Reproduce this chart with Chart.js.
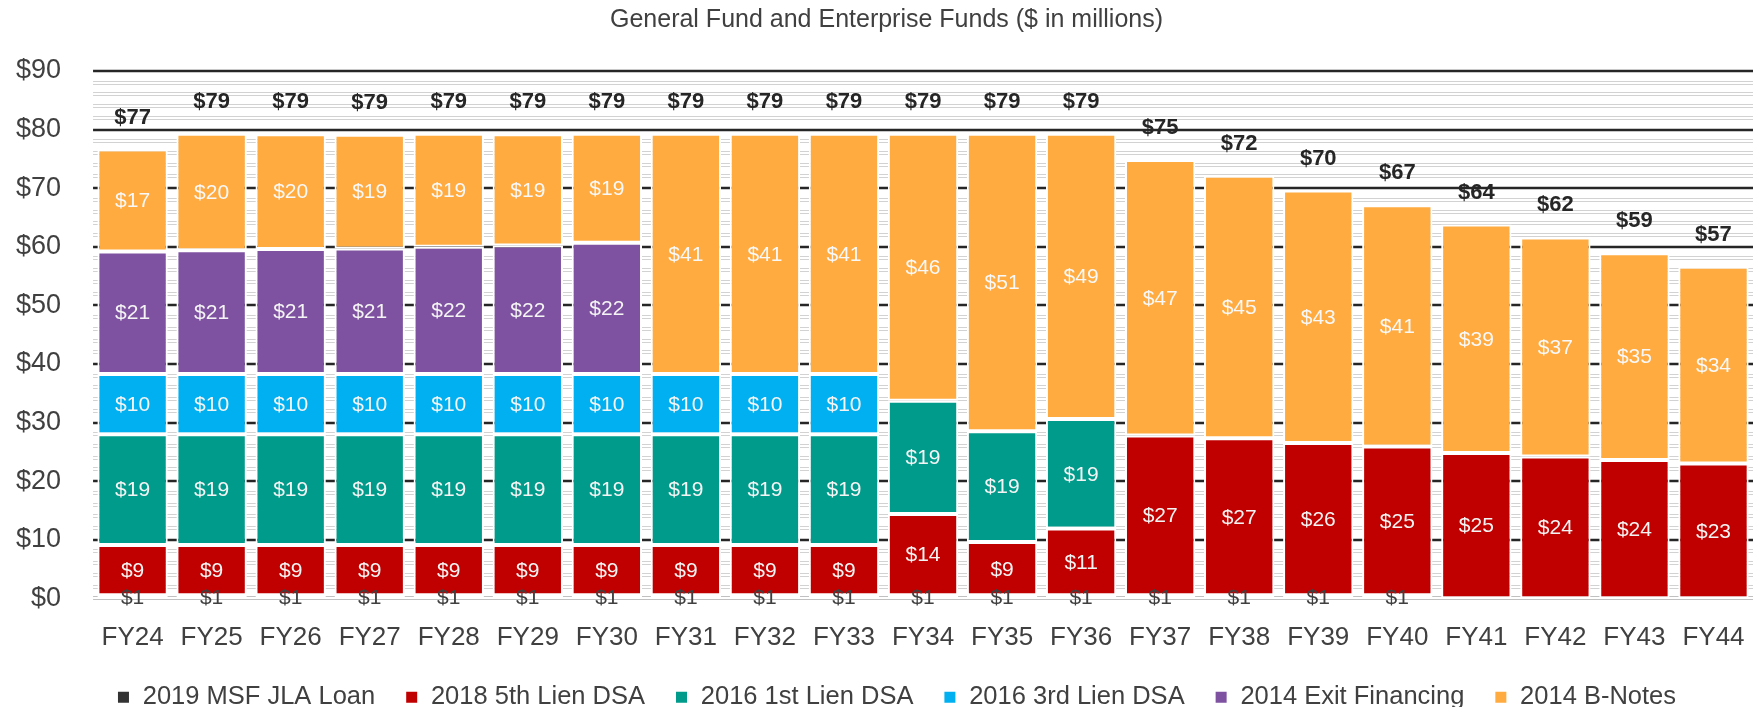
<!DOCTYPE html>
<html>
<head>
<meta charset="utf-8">
<script src="https://cdn.jsdelivr.net/npm/chart.js@4.4.1/dist/chart.umd.min.js"></script>
<style>
  html, body { margin: 0; padding: 0; background: #fff; }
  #wrap { width: 1759px; height: 707px; position: relative; }
</style>
</head>
<body>
<div id="wrap"><canvas id="c"></canvas></div>
<script>
const categories = ['FY24','FY25','FY26','FY27','FY28','FY29','FY30','FY31','FY32','FY33','FY34','FY35','FY36','FY37','FY38','FY39','FY40','FY41','FY42','FY43','FY44'];
const seriesNames = ['2019 MSF JLA Loan','2018 5th Lien DSA','2016 1st Lien DSA','2016 3rd Lien DSA','2014 Exit Financing','2014 B-Notes'];
const jlaLoan   = [0.5,0.5,0.5,0.5,0.5,0.5,0.5,0.5,0.5,0.5,0.5,0.5,0.5,0.5,0.5,0.5,0.5,null,null,null,null];
const lien5th   = [8.6,8.6,8.6,8.6,8.6,8.6,8.6,8.6,8.6,8.6,13.9,9.1,11.4,27.3,26.8,26.0,25.4,24.8,24.2,23.6,23.0];
const lien1st   = [18.9,18.9,18.9,18.9,18.9,18.9,18.9,18.9,18.9,18.9,19.3,18.9,18.7,null,null,null,null,null,null,null,null];
const lien3rd   = [10.3,10.3,10.3,10.3,10.3,10.3,10.3,10.3,10.3,10.3,null,null,null,null,null,null,null,null,null,null,null];
const exitFin   = [20.9,21.1,21.3,21.4,21.7,21.9,22.4,null,null,null,null,null,null,null,null,null,null,null,null,null,null];
const bNotes    = [17.4,19.9,19.6,19.4,19.3,19.0,18.6,41.0,41.0,41.0,45.6,50.8,48.7,47.0,44.8,43.1,41.2,39.0,37.4,35.3,33.6];
const yTicks    = [0,10,20,30,40,50,60,70,80,90];

const colors = ['#333333','#C00000','#009B8A','#00B0F0','#7E52A0','#FFAB40'];
const labelColors = ['#404040','#f4f4f4','#f4f4f4','#f4f4f4','#f4f4f4','#f8f8f8'];
const seriesData = [jlaLoan, lien5th, lien1st, lien3rd, exitFin, bNotes];

const FONT = "'Liberation Sans', Arial, sans-serif";

function hline(ctx, a, py, color, w) {
  ctx.strokeStyle = color; ctx.lineWidth = w;
  ctx.beginPath(); ctx.moveTo(a.left, py); ctx.lineTo(a.right, py); ctx.stroke();
}

const gridPlugin = {
  id: 'gridPlugin',
  afterLayout(chart) {
    // nudge title and legend horizontally to match the reference centring
    if (chart.titleBlock) { chart.titleBlock.left += 18; chart.titleBlock.right += 18; }
    if (chart.legend) { chart.legend.left += 28; chart.legend.right += 28; }
  },
  beforeDatasetsDraw(chart) {
    const {ctx, chartArea: a, scales: {y}} = chart;
    ctx.save();
    for (let v = 2; v < 90; v += 2) {
      if (v % 10 === 0) continue;
      const py = Math.round(y.getPixelForValue(v));
      hline(ctx, a, py, '#d2d2d2', 4);
      hline(ctx, a, py, '#ffffff', 2);
    }
    yTicks.forEach(v => {
      const py = Math.round(y.getPixelForValue(v));
      if (v === 0) {
        hline(ctx, a, py, '#c0c0c0', 4);
        hline(ctx, a, py, '#ffffff', 2);
      } else {
        hline(ctx, a, py, '#262626', 2.5);
      }
    });
    ctx.restore();
  }
};

const labelPlugin = {
  id: 'labelPlugin',
  afterDatasetsDraw(chart) {
    const {ctx, scales: {y}} = chart;
    ctx.save();
    ctx.textAlign = 'center';
    ctx.textBaseline = 'middle';
    chart.data.datasets.forEach((ds, di) => {
      const meta = chart.getDatasetMeta(di);
      meta.data.forEach((bar, i) => {
        const v = ds.data[i];
        if (v == null) return;
        const props = bar.getProps(['x','y','base'], true);
        const cy = (props.y + props.base) / 2;
        ctx.font = `21px ${FONT}`;
        ctx.fillStyle = labelColors[di];
        ctx.fillText('$' + Math.round(v), props.x, cy + 1);
      });
    });
    ctx.font = `bold 22px ${FONT}`;
    ctx.fillStyle = '#262626';
    const meta0 = chart.getDatasetMeta(1);
    categories.forEach((c, i) => {
      let sum = 0;
      seriesData.forEach(s => { if (s[i] != null) sum += s[i]; });
      const px = meta0.data[i].x;
      const py = y.getPixelForValue(sum) - 32;
      ctx.fillText('$' + Math.round(sum), px, py);
    });
    ctx.restore();
  }
};

new Chart(document.getElementById('c'), {
  type: 'bar',
  data: {
    labels: categories,
    datasets: seriesData.map((d, i) => ({
      label: seriesNames[i],
      data: d,
      backgroundColor: colors[i],
      borderColor: '#ffffff',
      borderWidth: 2,
      borderSkipped: false,
      categoryPercentage: 0.89,
      barPercentage: 1.0
    }))
  },
  options: {
    responsive: true,
    maintainAspectRatio: false,
    animation: false,
    layout: { padding: { left: -16, right: 6, top: 0, bottom: -13 } },
    plugins: {
      title: {
        display: true,
        text: 'General Fund and Enterprise Funds ($ in millions)',
        color: '#404040',
        font: { family: FONT, size: 25, weight: 'normal' },
        padding: { top: 5, bottom: 36 }
      },
      legend: {
        position: 'bottom',
        labels: {
          color: '#404040',
          font: { family: FONT, size: 25.5 },
          boxWidth: 13, boxHeight: 13,
          padding: 30
        }
      },
      tooltip: { enabled: false }
    },
    scales: {
      x: {
        stacked: true,
        grid: { display: false, drawTicks: true, tickLength: 23 },
        border: { display: false },
        ticks: { color: '#404040', font: { family: FONT, size: 26 }, padding: 1 }
      },
      y: {
        stacked: true,
        min: 0, max: 90,
        afterBuildTicks: (scale) => { scale.ticks = yTicks.map(v => ({ value: v })); },
        grid: { display: false, drawTicks: false },
        border: { display: false },
        ticks: { color: '#404040', font: { family: FONT, size: 27 }, padding: 32,
                  callback: (v) => '$' + v }
      }
    }
  },
  plugins: [gridPlugin, labelPlugin]
});
</script>
</body>
</html>
